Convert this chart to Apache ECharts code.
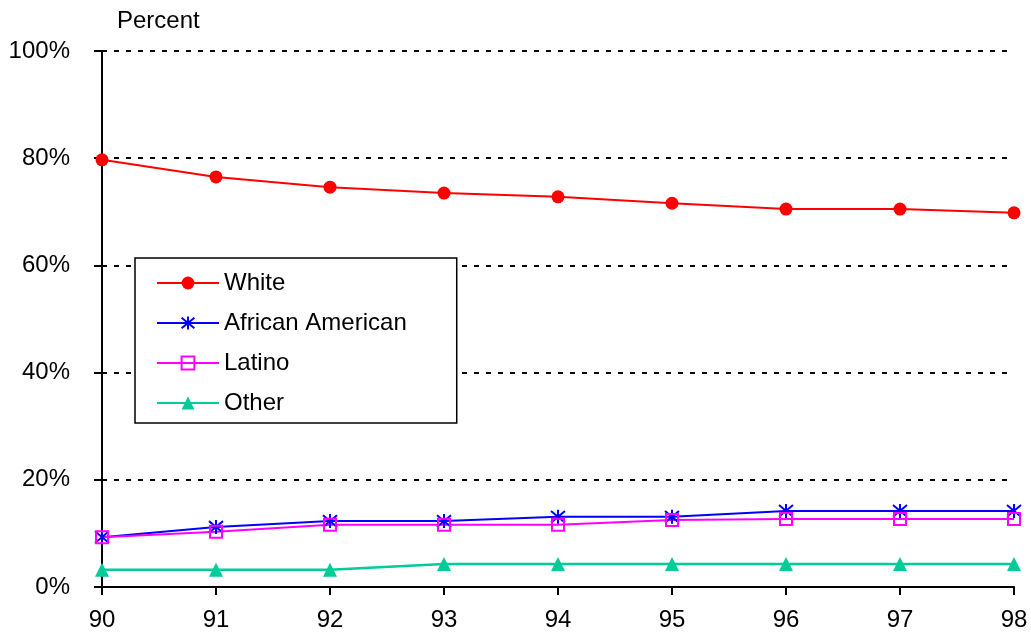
<!DOCTYPE html>
<html><head><meta charset="utf-8">
<script src="https://cdn.jsdelivr.net/npm/echarts@6/dist/echarts.min.js"></script>
<style>html,body{margin:0;padding:0;background:#fff}#c{width:1031px;height:642px}</style>
</head><body><div id="c"></div>
<script>
const years = ['90','91','92','93','94','95','96','97','98'];
const white = [79.7, 76.5, 74.6, 73.5, 72.8, 71.6, 70.5, 70.5, 69.8];
const africanAmerican = [9.3, 11.2, 12.3, 12.3, 13.1, 13.1, 14.2, 14.2, 14.2];
const latino = [9.3, 10.3, 11.6, 11.6, 11.6, 12.5, 12.7, 12.7, 12.7];
const other = [3.2, 3.2, 3.2, 4.3, 4.3, 4.3, 4.3, 4.3, 4.3];
const yTicks = [0, 20, 40, 60, 80, 100];

const font = 'Liberation Sans, Arial, sans-serif';
const chart = echarts.init(document.getElementById('c'), null, {renderer: 'canvas'});
const asterisk = 'path://M0 0L10 10M10 0L0 10M5 -1L5 11';
chart.setOption({
  animation: false,
  title: {text: 'Percent', left: 112, top: 4, textStyle: {fontFamily: font, fontSize: 24, fontWeight: 'normal', color: '#000'}},
  grid: {left: 102, right: 17, top: 51, bottom: 55},
  legend: {
    left: 135, top: 258, orient: 'vertical',
    padding: [13, 50, 8, 21],
    itemWidth: 62, itemHeight: 16, itemGap: 16,
    borderColor: '#000', borderWidth: 1.5, backgroundColor: '#fff',
    textStyle: {fontFamily: font, fontSize: 24, color: '#000'},
    data: ['White', 'African American', 'Latino', 'Other']
  },
  xAxis: {
    type: 'category', data: years, boundaryGap: false,
    axisLine: {lineStyle: {color: '#000', width: 2}},
    axisTick: {alignWithLabel: true, length: 8, lineStyle: {color: '#000', width: 2}},
    axisLabel: {fontFamily: font, fontSize: 24, color: '#000', margin: 21}
  },
  yAxis: {
    type: 'value', min: 0, max: 100, interval: 20,
    axisLine: {show: true, lineStyle: {color: '#000', width: 2}},
    axisTick: {show: true, length: 8, lineStyle: {color: '#000', width: 2}},
    axisLabel: {fontFamily: font, fontSize: 24, color: '#000', margin: 32, formatter: v => v + '%'},
    splitLine: {show: true, lineStyle: {color: '#000', type: [5, 7], width: 2}}
  },
  series: [
    {name: 'White', type: 'line', data: white, symbol: 'circle', symbolSize: 13,
     itemStyle: {color: '#ff0000'}, lineStyle: {color: '#ff0000', width: 2}},
    {name: 'African American', type: 'line', data: africanAmerican, symbol: asterisk, symbolSize: 14,
     itemStyle: {color: 'none', borderColor: '#0000ff', borderWidth: 2}, lineStyle: {color: '#0000ff', width: 2}},
    {name: 'Latino', type: 'line', data: latino, symbol: 'rect', symbolSize: 12,
     itemStyle: {color: 'rgba(255,255,255,0)', borderColor: '#ff00ff', borderWidth: 2}, lineStyle: {color: '#ff00ff', width: 2}},
    {name: 'Other', type: 'line', data: other, symbol: 'triangle', symbolSize: 14,
     itemStyle: {color: '#00cc99'}, lineStyle: {color: '#00cc99', width: 2.5}}
  ]
});
</script></body></html>
